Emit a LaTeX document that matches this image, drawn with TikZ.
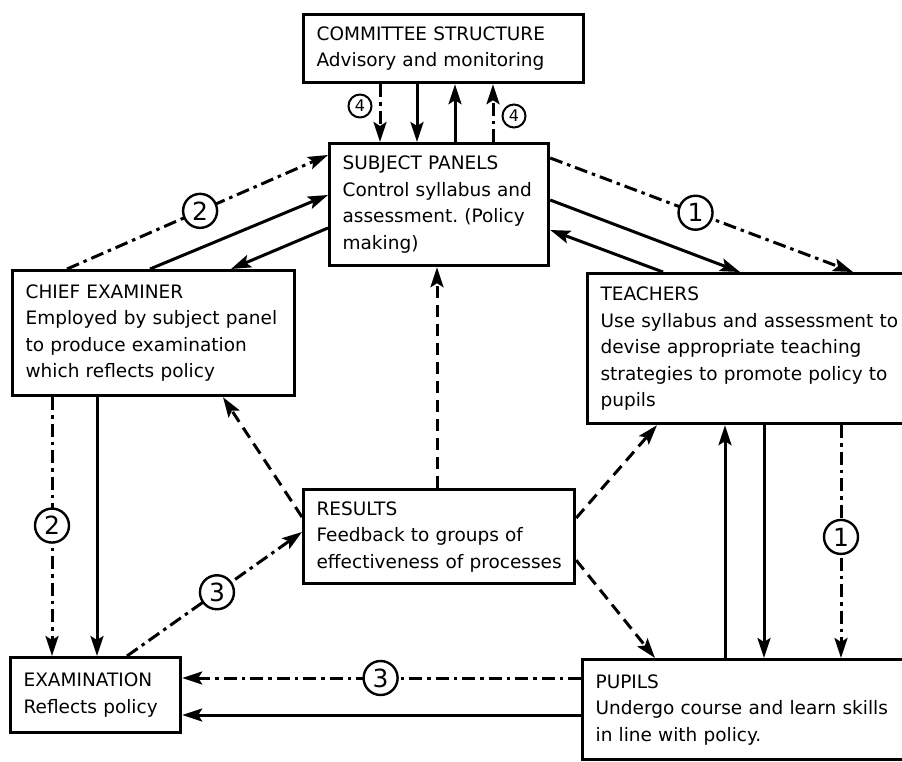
\documentclass[tikz,border=0pt]{standalone}
\usepackage{fontspec}
\setmainfont{DejaVu Sans}
\usetikzlibrary{arrows.meta,calc}
\frenchspacing
\begin{document}
\begin{tikzpicture}[x=1pt,y=-1pt,
  box/.style={draw, line width=3.2pt, rectangle, anchor=north west, inner xsep=13pt, inner ysep=0pt, align=left, font=\fontsize{18.5}{26.5}\selectfont},
  ln/.style={line width=3pt, -{Stealth[length=20pt,width=13pt,inset=4pt]}},
  dd/.style={ln, dash pattern=on 13pt off 5pt on 3.5pt off 5pt},
  ds/.style={ln, dash pattern=on 12pt off 7pt},
  num/.style={circle, draw, solid, line width=2.4pt, fill=white, minimum size=34pt, inner sep=0pt, font=\fontsize{25}{25}\selectfont},
  snum/.style={circle, draw, line width=2pt, fill=white, minimum size=23pt, inner sep=0pt, font=\fontsize{16}{16}\selectfont}]
\useasboundingbox (0,0) rectangle (902,761);
\fill[white] (0,0) rectangle (902,761);

% boxes
\node[box, text width=254pt, minimum height=68pt] (com) at (302,13)
  {\mbox{COMMITTEE STRUCTURE}\\\mbox{Advisory and monitoring}};
\node[box, text width=193pt, minimum height=122pt] (sp) at (328,142)
  {\mbox{SUBJECT PANELS}\\\mbox{Control syllabus and}\\\mbox{assessment. (Policy}\\\mbox{making)}};
\node[box, text width=256pt, minimum height=125pt] (chief) at (11,269)
  {\mbox{CHIEF EXAMINER}\\\mbox{Employed by subject panel}\\\mbox{to produce examination}\\\mbox{which reflects policy}};
\node[box, text width=303pt, minimum height=150pt] (tea) at (586,272)
  {\mbox{TEACHERS}\\\mbox{Use syllabus and assessment to}\\\mbox{devise appropriate teaching}\\\mbox{strategies to promote policy to}\\\mbox{pupils}};
\node[box, text width=245pt, minimum height=94pt] (res) at (302,488)
  {\mbox{RESULTS}\\\mbox{Feedback to groups of}\\\mbox{effectiveness of processes}};
\node[box, text width=144pt, minimum height=75pt] (exam) at (9,656)
  {\mbox{EXAMINATION}\\\mbox{Reflects policy}};
\node[box, text width=308pt, minimum height=100pt] (pup) at (581,658)
  {\mbox{PUPILS}\\\mbox{Undergo course and learn skills}\\\mbox{in line with policy.}};

% committee <-> subject panels
\draw[dd] ($(com.south west)+(78,0)$) -- ($(sp.north west)+(52,0)$);
\draw[ln] ($(com.south west)+(115,0)$) -- ($(sp.north west)+(89,0)$);
\draw[ln] ($(sp.north west)+(127,0)$) -- ($(com.south west)+(153,0)$);
\draw[dd] ($(sp.north west)+(165,0)$) -- ($(com.south west)+(191,0)$);
\node[snum] (f1) at (360,106) {4};
\node[snum] (f2) at (514,116) {4};

% chief <-> subject panels
\draw[dd] ($(chief.north west)+(56,0)$) -- node[num, pos=0.51] (c2a) {2} ($(sp.north west)+(0,13)$);
\draw[ln] ($(chief.north west)+(139,0)$) -- ($(sp.north west)+(0,53)$);
\draw[ln] ($(sp.north west)+(0,86)$) -- ($(chief.north west)+(220,0)$);

% subject panels <-> teachers
\draw[dd] ($(sp.north east)+(0,16)$) -- node[num, pos=0.48] (c1a) {1} ($(tea.north west)+(267,0)$);
\draw[ln] ($(sp.north east)+(0,58)$) -- ($(tea.north west)+(154,0)$);
\draw[ln] ($(tea.north west)+(77,0)$) -- ($(sp.north east)+(0,88)$);

% teachers <-> pupils
\draw[ln] ($(pup.north west)+(144,0)$) -- ($(tea.south west)+(139,0)$);
\draw[ln] ($(tea.south west)+(178,0)$) -- ($(pup.north west)+(183,0)$);
\draw[dd] ($(tea.south west)+(255,0)$) -- node[num, pos=0.48] (c1b) {1} ($(pup.north west)+(260,0)$);

% chief -> examination
\draw[dd] ($(chief.south west)+(41,0)$) -- node[num, pos=0.496] (c2b) {2} ($(exam.north west)+(43,0)$);
\draw[ln] ($(chief.south west)+(86,0)$) -- ($(exam.north west)+(88,0)$);

% examination -> results
\draw[dd] ($(exam.north west)+(118,0)$) -- node[num, pos=0.514] (c3a) {3} ($(res.north west)+(0,44)$);

% results -> others
\draw[ds] ($(res.north west)+(0,29)$) -- ($(chief.south west)+(212,0)$);
\draw[ds] ($(res.north west)+(135,0)$) -- ($(sp.south west)+(109,0)$);
\draw[ds] ($(res.north east)+(0,30)$) -- ($(tea.south west)+(71,0)$);
\draw[ds] ($(res.south east)+(0,-25)$) -- ($(pup.north west)+(74,0)$);

% pupils -> examination
\draw[dd] ($(pup.north west)+(0,20)$) -- node[num, pos=0.5025] (c3b) {3} ($(exam.north east)+(0,22)$);
\draw[ln] ($(pup.north west)+(0,57)$) -- ($(exam.north east)+(0,59)$);
\end{tikzpicture}
\end{document}
